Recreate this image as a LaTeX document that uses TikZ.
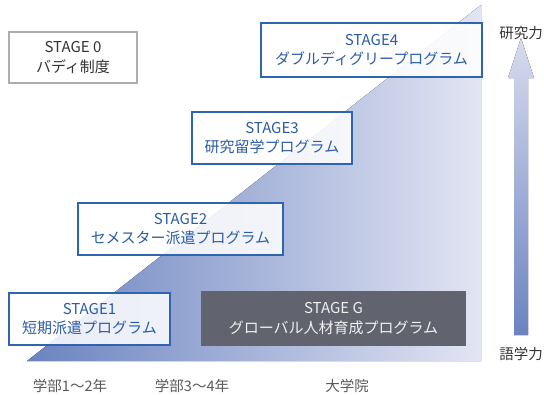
\documentclass[tikz,border=0pt]{standalone}
\usepackage{fontspec}
\setmainfont{Noto Sans CJK JP}
\definecolor{stageblue}{HTML}{2F64B0}
\definecolor{textblue}{HTML}{2B5CA8}
\definecolor{triL}{HTML}{6B83C0}
\definecolor{triM}{HTML}{98A6D5}
\definecolor{triR}{HTML}{E2E5F3}
\definecolor{gbox}{HTML}{61646F}
\begin{document}
\begin{tikzpicture}[x=1pt, y=-1pt,
  stage/.style={draw=stageblue, line width=2pt, fill=white, fill opacity=0.86,
    text opacity=1, text=textblue, align=center, inner sep=0pt,
    font=\fontsize{15}{19.5}\selectfont},
  plain/.style={draw=black!32, line width=1.6pt, fill=white, text=black!80,
    align=center, inner sep=0pt, font=\fontsize{15}{19.5}\selectfont},
  dark/.style={fill=gbox, text=white!94!black, align=center, inner sep=0pt,
    font=\fontsize{15}{19.5}\selectfont},
  lab/.style={text=black!65, font=\fontsize{14.5}{16}\selectfont},
  axis/.style={text=black!80, font=\fontsize{14.5}{16}\selectfont}
]
\useasboundingbox (0,0) rectangle (544,394);
% growth triangle
\fill[left color=triL, middle color=triM, right color=triR]
  (27,361) -- (481,361) -- (481,5) -- cycle;
% arrow at the right
\fill[bottom color=triL, top color=triR!85!triM]
  (514,335) -- (528,335) -- (528,78) -- (534,78) -- (521,38)
  -- (508,78) -- (514,78) -- cycle;
\node[axis] (hi) at (521,33) {研究力};
\node[axis] (lo) at (521,354) {語学力};
% stages
\node[plain, minimum width=128, minimum height=51] (s0) at (73,57.5)
  {STAGE 0\\バディ制度};
\node[stage, minimum width=161, minimum height=52] (s1) at (89.5,319)
  {STAGE1\\短期派遣プログラム};
\node[stage, minimum width=205, minimum height=52] (s2) at (180.5,229)
  {STAGE2\\セメスター派遣プログラム};
\node[stage, minimum width=160, minimum height=52] (s3) at (272,138)
  {STAGE3\\研究留学プログラム};
\node[stage, minimum width=221, minimum height=54] (s4) at (371.5,50)
  {STAGE4\\ダブルディグリープログラム};
\node[dark, minimum width=265, minimum height=55] (sg) at (333.5,318.5)
  {STAGE G\\グローバル人材育成プログラム};
% years
\node[lab] (y1) at (70,386) {学部1～2年};
\node[lab] (y2) at (192,386) {学部3～4年};
\node[lab] (y3) at (347,386) {大学院};
\end{tikzpicture}
\end{document}
